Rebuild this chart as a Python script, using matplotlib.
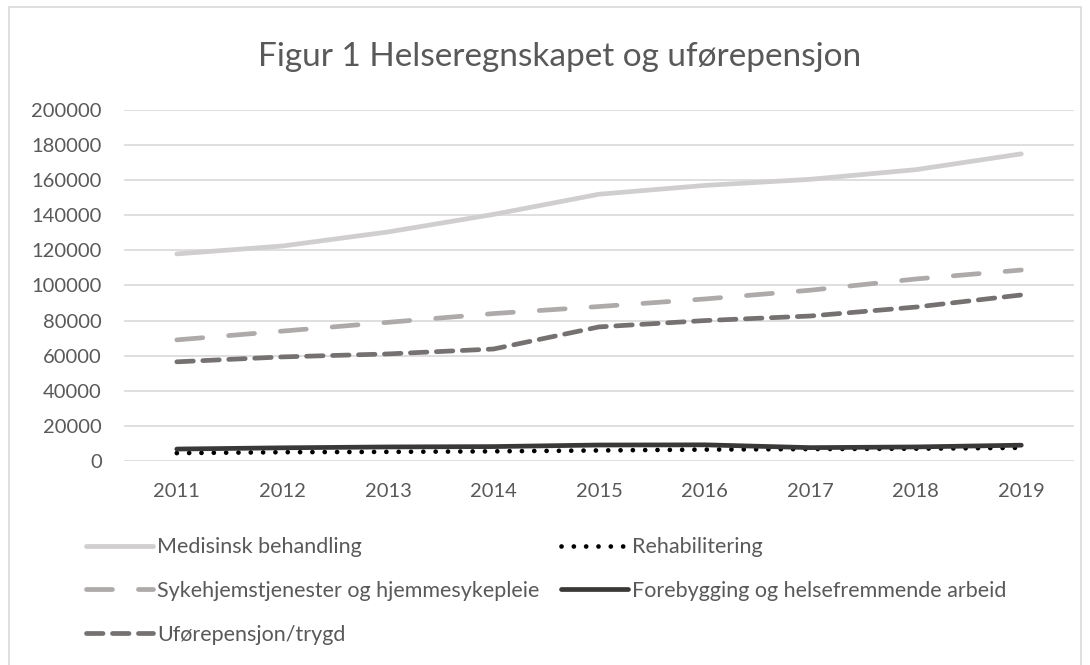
import matplotlib.pyplot as plt
from matplotlib.patches import Rectangle

years = ["2011", "2012", "2013", "2014", "2015", "2016", "2017", "2018", "2019"]
medisinsk = [118000, 122500, 130500, 140500, 152000, 157000, 160500, 166000, 175000]
sykehjem = [69000, 74000, 79000, 84000, 88000, 92300, 97300, 103700, 108800]
uforepensjon = [56500, 59300, 61000, 63800, 76400, 80000, 82600, 87700, 94600]
forebygging = [6800, 7500, 8000, 8200, 9100, 9200, 7600, 8000, 9000]
rehabilitering = [4500, 5000, 5200, 5500, 6000, 6500, 6800, 7000, 7500]

plt.rcParams['font.family'] = ['Lato', 'DejaVu Sans']

fig = plt.figure(figsize=(10.9, 6.65), dpi=100)
ax = fig.add_axes([0.1138, 0.3068, 0.8716, 0.5278])

x = range(len(years))
lw = 3.4
l1, = ax.plot(x, medisinsk, color='#d0cece', lw=lw, solid_capstyle='round',
              label='Medisinsk behandling')
l2, = ax.plot(x, sykehjem, color='#aeaaaa', lw=lw, dash_capstyle='round',
              dashes=(5.5, 5.5), label='Sykehjemstjenester og hjemmesykepleie')
l3, = ax.plot(x, uforepensjon, color='#767171', lw=lw, dash_capstyle='round',
              dashes=(3.5, 2.0), label='Uførepensjon/trygd')
l4, = ax.plot(x, rehabilitering, color='black', lw=lw, dash_capstyle='round',
              dashes=(0.01, 2.6), label='Rehabilitering')
l5, = ax.plot(x, forebygging, color='#3b3838', lw=lw, solid_capstyle='round',
              label='Forebygging og helsefremmende arbeid')

ax.set_xlim(-0.5, len(years) - 0.5)
ax.set_ylim(0, 200000)
ax.set_yticks(range(0, 200001, 20000))
ax.set_yticklabels([str(v) for v in range(0, 200001, 20000)])
ax.set_xticks(list(x))
ax.set_xticklabels(years)
ax.grid(axis='y', color='#d9d9d9', lw=1.2)
ax.set_axisbelow(True)
for s in ax.spines.values():
    s.set_visible(False)
ax.tick_params(length=0, labelsize=14.5, colors='#595959')
ax.tick_params(axis='y', pad=16)
ax.tick_params(axis='x', pad=16)

fig.text(0.513, 0.915, 'Figur 1 Helseregnskapet og uførepensjon', ha='center',
         va='center', fontsize=24, color='#595959')

fig.legend(handles=[l1, l2, l3, l4, l5], ncol=2, frameon=False,
           loc='upper left', bbox_to_anchor=(0.071, 0.205), fontsize=15.5,
           labelcolor='#595959', handlelength=3.1, handletextpad=0.2,
           columnspacing=1.0, labelspacing=1.1, borderaxespad=0)

fig.patches.append(Rectangle((0.008, -0.01), 0.984, 1.0, transform=fig.transFigure,
                             fill=False, edgecolor='#d9d9d9', lw=1.2))

fig.savefig('out.png', dpi=100)
